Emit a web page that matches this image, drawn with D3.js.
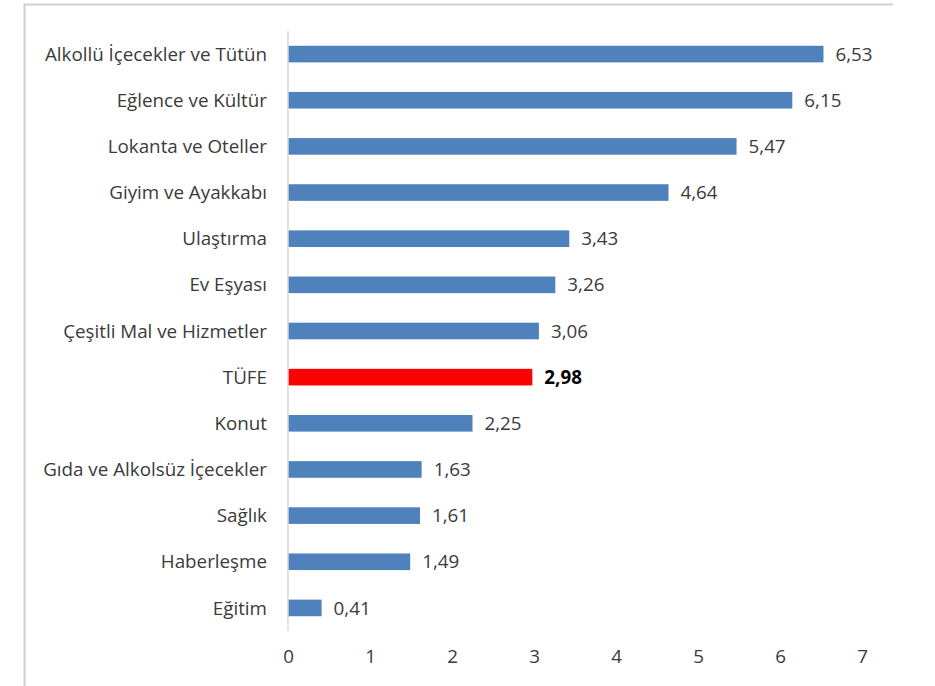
<!DOCTYPE html>
<html><head><meta charset="utf-8">
<script src="https://cdn.jsdelivr.net/npm/d3@7"></script>
<style>body{margin:0;background:#fff;} svg{display:block;}</style>
</head><body>
<svg id="c" width="935" height="686"></svg>
<script>
const categories = ["Alkollü İçecekler ve Tütün","Eğlence ve Kültür","Lokanta ve Oteller","Giyim ve Ayakkabı","Ulaştırma","Ev Eşyası","Çeşitli Mal ve Hizmetler","TÜFE","Konut","Gıda ve Alkolsüz İçecekler","Sağlık","Haberleşme","Eğitim"];
const values = [6.53,6.15,5.47,4.64,3.43,3.26,3.06,2.98,2.25,1.63,1.61,1.49,0.41];
const xTicks = [0,1,2,3,4,5,6,7];
const highlight = "TÜFE";

const svg = d3.select("#c");
const font = "'Open Sans', sans-serif";
const fs = 18.8;

// frame
svg.append("path").attr("d","M24.5,686 L24.5,4.5 L893,4.5").attr("fill","none").attr("stroke","#d0d0d0").attr("stroke-width",2);

const x = d3.scaleLinear().domain([0,7]).range([288,862]);
const y = d3.scaleBand().domain(categories).range([31,631]).paddingInner(0.64).paddingOuter(0.32);

svg.append("g").selectAll("rect").data(categories).join("rect")
  .attr("x", x(0)).attr("y", d=>y(d)).attr("height", y.bandwidth())
  .attr("width", (d,i)=>x(values[i])-x(0))
  .attr("fill", d=> d===highlight ? "#FF0000" : "#4F81BD");

// y axis line
svg.append("line").attr("x1",x(0)).attr("x2",x(0)).attr("y1",31).attr("y2",631).attr("stroke","#d9d9d9").attr("stroke-width",1.5);

// category labels
svg.append("g").selectAll("text").data(categories).join("text")
  .attr("x", 267).attr("y", d=>y(d)+y.bandwidth()/2).attr("dy","0.35em")
  .attr("text-anchor","end").attr("font-family",font).attr("font-size",fs).attr("fill","#3a3a3a")
  .text(d=>d);

// value labels
svg.append("g").selectAll("text").data(categories).join("text")
  .attr("x", (d,i)=>x(values[i])+12).attr("y", d=>y(d)+y.bandwidth()/2).attr("dy","0.35em")
  .attr("font-family",font).attr("font-size",fs)
  .attr("font-weight", d=>d===highlight?"bold":"normal")
  .attr("fill", d=>d===highlight?"#000":"#3a3a3a")
  .text((d,i)=>values[i].toFixed(2).replace(".",","));

// x axis
const xa = d3.axisBottom(x).tickValues(xTicks).tickSize(0).tickPadding(0).tickFormat(d3.format("d"));
const g = svg.append("g").attr("transform","translate(0,650)").call(xa);
g.select(".domain").remove();
g.selectAll("text").attr("font-family",font).attr("font-size",fs).attr("fill","#3a3a3a");
</script>
</body></html>
